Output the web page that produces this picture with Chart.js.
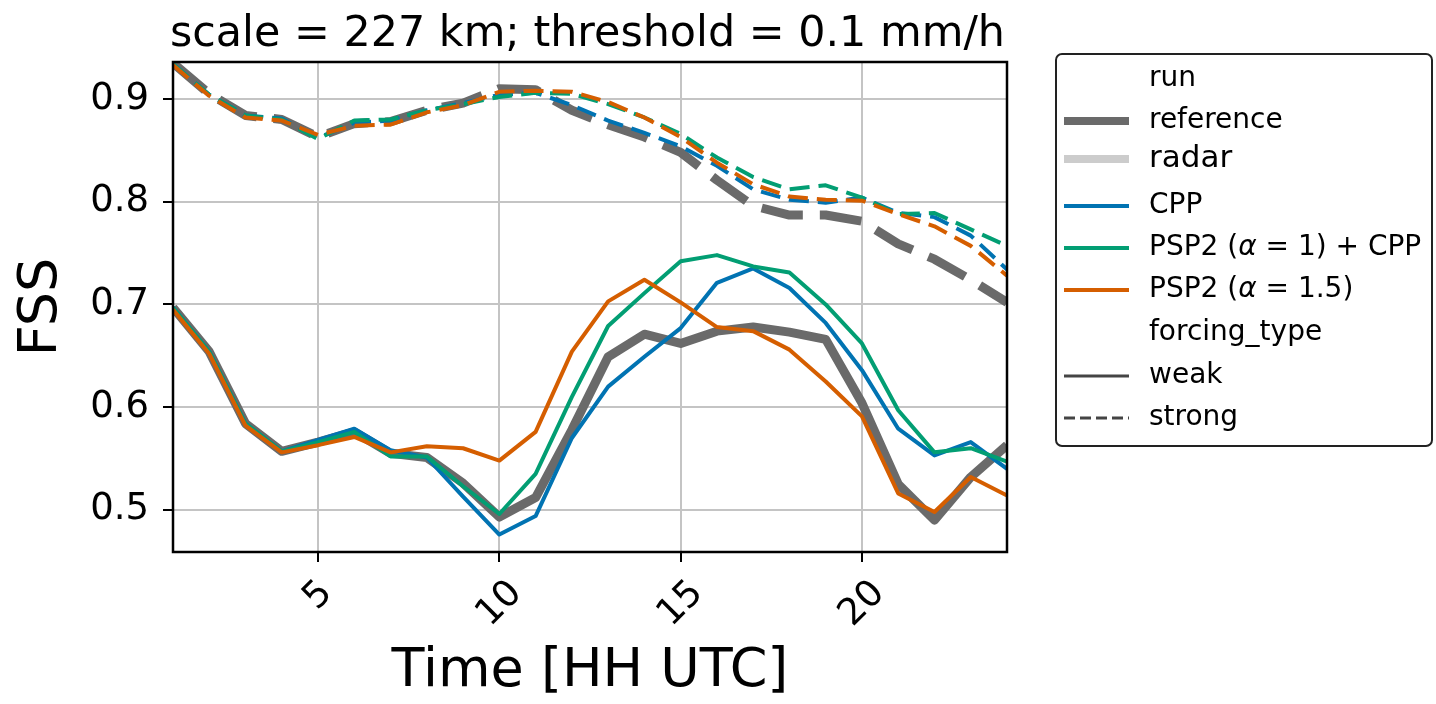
<!DOCTYPE html>
<html>
<head>
<meta charset="utf-8">
<script src="https://cdn.jsdelivr.net/npm/chart.js@4.4.1/dist/chart.umd.min.js"></script>
<style>
  html, body { margin: 0; padding: 0; background: #fff; }
  #fss { display: block; }
</style>
</head>
<body>
<canvas id="fss" width="1436" height="704"></canvas>
<script>
const hours = [1, 2, 3, 4, 5, 6, 7, 8, 9, 10, 11, 12, 13, 14, 15, 16, 17, 18, 19, 20, 21, 22, 23, 24];
const xTicks = [5, 10, 15, 20];
const yTicks = [0.5, 0.6, 0.7, 0.8, 0.9];

// weak forcing
const refWeak   = [0.697, 0.654, 0.584, 0.557, 0.566, 0.576, 0.555, 0.551, 0.526, 0.493, 0.512, 0.578, 0.649, 0.671, 0.662, 0.674, 0.678, 0.673, 0.666, 0.604, 0.525, 0.490, 0.532, 0.563];
const cppWeak   = [0.697, 0.654, 0.584, 0.557, 0.568, 0.579, 0.558, 0.551, 0.513, 0.476, 0.494, 0.570, 0.620, 0.649, 0.677, 0.721, 0.735, 0.716, 0.682, 0.636, 0.579, 0.553, 0.566, 0.540];
const psp2cppWeak = [0.697, 0.654, 0.584, 0.557, 0.566, 0.576, 0.552, 0.552, 0.523, 0.496, 0.535, 0.610, 0.679, 0.711, 0.742, 0.748, 0.737, 0.731, 0.700, 0.662, 0.597, 0.556, 0.560, 0.547];
const psp2Weak  = [0.695, 0.652, 0.582, 0.556, 0.563, 0.571, 0.556, 0.562, 0.560, 0.548, 0.576, 0.654, 0.703, 0.724, 0.702, 0.678, 0.674, 0.656, 0.625, 0.591, 0.516, 0.498, 0.532, 0.514];

// strong forcing
const refStrong   = [0.935, 0.905, 0.884, 0.880, 0.863, 0.876, 0.878, 0.889, 0.896, 0.910, 0.909, 0.889, 0.875, 0.863, 0.848, 0.821, 0.796, 0.787, 0.787, 0.781, 0.759, 0.744, 0.724, 0.702];
const cppStrong   = [0.934, 0.904, 0.884, 0.881, 0.862, 0.877, 0.879, 0.889, 0.896, 0.904, 0.906, 0.894, 0.879, 0.867, 0.854, 0.835, 0.812, 0.802, 0.799, 0.804, 0.789, 0.785, 0.767, 0.734];
const psp2cppStrong = [0.934, 0.904, 0.884, 0.880, 0.861, 0.879, 0.880, 0.889, 0.895, 0.902, 0.906, 0.905, 0.895, 0.882, 0.866, 0.843, 0.824, 0.812, 0.816, 0.804, 0.788, 0.789, 0.773, 0.757];
const psp2Strong  = [0.933, 0.903, 0.882, 0.879, 0.865, 0.874, 0.875, 0.887, 0.894, 0.907, 0.908, 0.907, 0.897, 0.882, 0.863, 0.838, 0.817, 0.805, 0.802, 0.801, 0.788, 0.776, 0.757, 0.728];

const titleText = 'scale = 227 km; threshold = 0.1 mm/h';

const GRAY = '#6a6a6a';
const BLUE = '#0173b2';
const GREEN = '#029e73';
const ORANGE = '#d55e00';

function pts(vals) {
    return hours.map((h, i) => ({ x: h, y: vals[i] }));
}

function series(vals, color, width, dash, order) {
    return {
        data: pts(vals),
        borderColor: color,
        borderWidth: width,
        borderDash: dash,
        borderCapStyle: 'butt',
        borderJoinStyle: 'round',
        pointRadius: 0,
        tension: 0,
        fill: false,
        clip: 0,
        order: order
    };
}

const FONT = '"DejaVu Sans", sans-serif';

// draws a run of text pieces, some of them italic (math alpha)
function drawPieces(ctx, pieces, x, y, size) {
    let cx = x;
    pieces.forEach(p => {
        ctx.font = (p[1] ? 'italic ' : '') + size + 'px ' + FONT;
        ctx.fillText(p[0], cx, y);
        cx += ctx.measureText(p[0]).width;
    });
}

// title, frame, rotated x tick labels and legend
const decorations = {
    id: 'decorations',
    afterDatasetsDraw(chart) {
        const ctx = chart.ctx;
        const a = chart.chartArea;
        ctx.save();
        ctx.strokeStyle = '#000';
        ctx.lineWidth = 2.5;
        ctx.strokeRect(a.left, a.top, a.right - a.left, a.bottom - a.top);
        ctx.restore();
    },
    afterDraw(chart) {
        const ctx = chart.ctx;
        const a = chart.chartArea;
        const xs = chart.scales.x;

        // title, condensed
        ctx.save();
        ctx.font = '43px ' + FONT;
        ctx.fillStyle = '#000';
        ctx.textBaseline = 'alphabetic';
        const tw = ctx.measureText(titleText).width;
        const target = 835;
        ctx.translate(170, 46);
        ctx.scale(target / tw, 1);
        ctx.textAlign = 'left';
        ctx.fillText(titleText, 0, 0);
        ctx.restore();

        // x tick labels rotated 45 deg, centred under the tick
        ctx.save();
        ctx.font = '37px ' + FONT;
        ctx.fillStyle = '#000';
        ctx.textAlign = 'center';
        ctx.textBaseline = 'middle';
        xTicks.forEach(v => {
            const label = String(v);
            const w = ctx.measureText(label).width;
            const px = xs.getPixelForValue(v);
            const cy = a.bottom + 21 + (w + 37) * 0.3536;
            ctx.save();
            ctx.translate(px - 1, cy);
            ctx.rotate(-Math.PI / 4);
            ctx.fillText(label, 0, 2);
            ctx.restore();
        });
        ctx.restore();

        // legend
        const bx = 1056, by = 54, bw = 376, bh = 392, r = 6;
        ctx.save();
        ctx.fillStyle = '#fff';
        ctx.strokeStyle = '#222';
        ctx.lineWidth = 2;
        ctx.beginPath();
        ctx.roundRect(bx, by, bw, bh, r);
        ctx.fill();
        ctx.stroke();

        const rows = [
            { text: [['run']], y: 79 },
            { text: [['reference']], y: 121, color: GRAY, width: 8 },
            { text: [['radar']], y: 159, color: '#cccccc', width: 8, size: 31 },
            { text: [['CPP']], y: 206, color: BLUE, width: 4 },
            { text: [['PSP2 ('], ['\u03B1', true], [' = 1) + CPP']], y: 248, color: GREEN, width: 4 },
            { text: [['PSP2 ('], ['\u03B1', true], [' = 1.5)']], y: 290, color: ORANGE, width: 4 },
            { text: [['forcing_type']], y: 333 },
            { text: [['weak']], y: 376, color: '#444', width: 3 },
            { text: [['strong']], y: 418, color: '#444', width: 3, dash: [11, 5] }
        ];
        rows.forEach(row => {
            if (row.color) {
                ctx.save();
                ctx.strokeStyle = row.color;
                ctx.lineWidth = row.width;
                ctx.lineCap = 'butt';
                ctx.setLineDash(row.dash || []);
                ctx.beginPath();
                ctx.moveTo(1064, row.y);
                ctx.lineTo(1129, row.y);
                ctx.stroke();
                ctx.restore();
            }
            ctx.fillStyle = '#000';
            ctx.textAlign = 'left';
            ctx.textBaseline = 'middle';
            drawPieces(ctx, row.text, 1149, row.y, row.size || 28);
        });
        ctx.restore();
    }
};

const chart = new Chart(document.getElementById('fss'), {
    type: 'line',
    data: {
        datasets: [
            series(refWeak, GRAY, 9, [], 3),
            series(refStrong, GRAY, 9, [42, 17], 3),
            series(cppWeak, BLUE, 4, [], 2),
            series(cppStrong, BLUE, 4, [20, 9], 2),
            series(psp2cppWeak, GREEN, 4, [], 1),
            series(psp2cppStrong, GREEN, 4, [20, 9], 1),
            series(psp2Weak, ORANGE, 4, [], 0),
            series(psp2Strong, ORANGE, 4, [20, 9], 0)
        ]
    },
    options: {
        responsive: false,
        animation: false,
        devicePixelRatio: 1,
        layout: { padding: { left: 0, right: 429, top: 62, bottom: 0 } },
        plugins: {
            legend: { display: false },
            title: { display: false },
            tooltip: { enabled: false }
        },
        scales: {
            x: {
                type: 'linear',
                min: 1,
                max: 24,
                afterBuildTicks: (scale) => { scale.ticks = xTicks.map(v => ({ value: v })); },
                afterFit: (scale) => { scale.height = 152; },
                grid: { color: '#c4c4c4', lineWidth: 2, tickColor: '#000', tickWidth: 2, tickLength: 10 },
                border: { display: false },
                ticks: { display: false },
                title: {
                    display: true,
                    text: 'Time [HH UTC]',
                    color: '#000',
                    font: { family: FONT, size: 54 },
                    padding: { top: 0, bottom: 0 }
                }
            },
            y: {
                min: 0.459,
                max: 0.936,
                afterBuildTicks: (scale) => { scale.ticks = yTicks.map(v => ({ value: v })); },
                afterFit: (scale) => { scale.width = 173; },
                grid: { color: '#c4c4c4', lineWidth: 2, tickColor: '#000', tickWidth: 2, tickLength: 10 },
                border: { display: false },
                ticks: {
                    color: '#000',
                    padding: 14,
                    font: { family: FONT, size: 37 },
                    callback: (v) => v.toFixed(1)
                },
                title: {
                    display: true,
                    text: 'FSS',
                    color: '#000',
                    font: { family: FONT, size: 54 },
                    padding: { top: 10, bottom: 0 }
                }
            }
        }
    },
    plugins: [decorations]
});
</script>
</body>
</html>
